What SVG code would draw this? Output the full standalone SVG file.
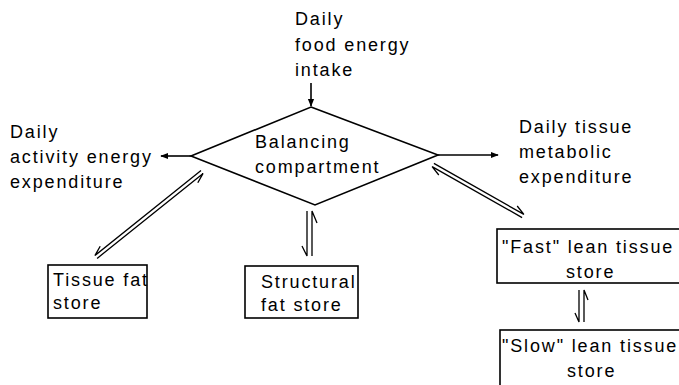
<svg xmlns="http://www.w3.org/2000/svg" width="679" height="385" viewBox="0 0 679 385">
<defs>
<style>
text{font-family:"Liberation Sans",Arial,Helvetica,sans-serif;font-size:18px;letter-spacing:1.85px;fill:#000}
.ln{stroke:#000;stroke-width:1.6;fill:none}
.thin{stroke:#000;stroke-width:1.3;fill:none}
.box{stroke:#000;stroke-width:1.6;fill:#fff}
</style>
<marker id="ah" viewBox="0 0 10 10" refX="9" refY="5" markerWidth="8" markerHeight="8" markerUnits="userSpaceOnUse" orient="auto">
<path d="M0,1 L10,5 L0,9 Z" fill="#000"/>
</marker>
</defs>
<rect width="679" height="385" fill="#fff"/>

<g id="intake">
<text x="295" y="25">Daily</text>
<text x="295" y="50.5">food energy</text>
<text x="295" y="76">intake</text>
</g>
<g id="activity">
<text x="10" y="138">Daily</text>
<text x="10" y="163">activity energy</text>
<text x="10" y="188">expenditure</text>
</g>
<g id="metabolic">
<text x="519" y="133">Daily tissue</text>
<text x="519" y="158">metabolic</text>
<text x="519" y="183">expenditure</text>
</g>
<g id="balancing">
<path class="ln" d="M311,107 L438,155 L315,205 L191,156 Z" fill="#fff"/>
<text x="255" y="148">Balancing</text>
<text x="255" y="173">compartment</text>
</g>
<g id="tissuefat">
<rect class="box" x="48" y="265" width="99" height="53"/>
<text x="53" y="286">Tissue fat</text>
<text x="53" y="309">store</text>
</g>
<g id="structural">
<rect class="box" x="245" y="266" width="113" height="52"/>
<text x="261" y="288">Structural</text>
<text x="261" y="311">fat store</text>
</g>
<g id="fast">
<rect class="box" x="497" y="229" width="200" height="54"/>
<text x="502" y="253">"Fast" lean tissue</text>
<text x="566" y="278">store</text>
</g>
<g id="slow">
<rect class="box" x="500" y="330" width="200" height="70"/>
<text x="502" y="352">"Slow" lean tissue</text>
<text x="567" y="377">store</text>
</g>

<g id="connectors">
<line class="ln" x1="311" y1="83" x2="311" y2="106" marker-end="url(#ah)"/>
<line class="ln" x1="191" y1="156" x2="161" y2="156" marker-end="url(#ah)"/>
<line class="ln" x1="438" y1="155" x2="498" y2="155" marker-end="url(#ah)"/>
<path class="thin" d="M201,170.6 L94.9,255.6 L100.2,246.2"/>
<path class="thin" d="M97.1,258.4 L203.1,173.4 L197.8,182.8"/>
<path class="thin" d="M433.9,163.4 L523.9,214.4 L517.2,206"/>
<path class="thin" d="M522.1,217.6 L432.1,166.6 L438.8,175"/>
<path class="thin" d="M307,211 L307,256 L302,246"/>
<path class="thin" d="M312,256 L312,211 L317,223"/>
<path class="thin" d="M579,290 L579,322 L575,313"/>
<path class="thin" d="M584,322 L584,290 L588,300"/>
</g>
</svg>
